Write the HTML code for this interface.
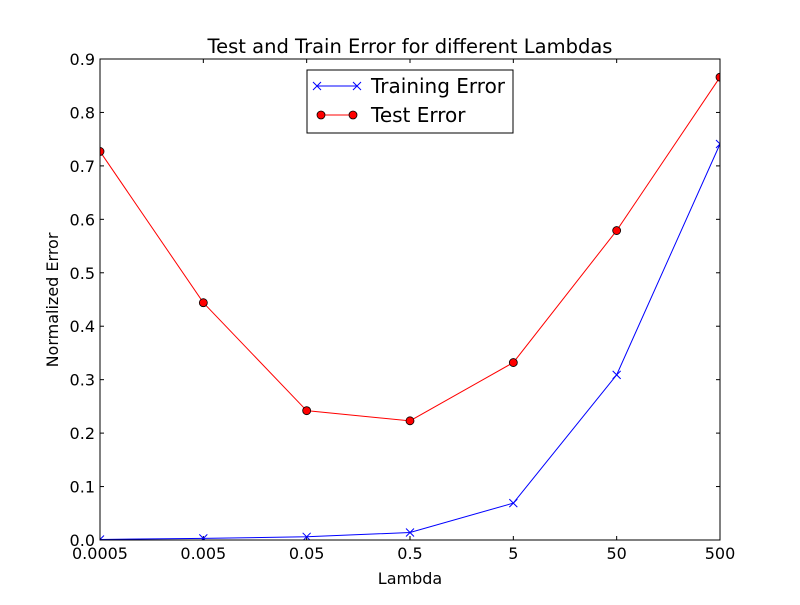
<!DOCTYPE html>
<html><head><meta charset="utf-8"><style>
body{margin:0;background:#fff;}
svg text{font-family:"DejaVu Sans","Liberation Sans",sans-serif;}
</style></head><body>
<svg id="chart" width="800" height="600" xmlns="http://www.w3.org/2000/svg">
<defs><clipPath id="ax"><rect x="100" y="59" width="620" height="481"/></clipPath></defs>
<rect width="800" height="600" fill="#fff"/>
<g id="plot"></g>
</svg>
<script>
const categories=["0.0005","0.005","0.05","0.5","5","50","500"];
const trainValues=[0.001,0.003,0.006,0.014,0.069,0.309,0.741];
const testValues=[0.727,0.444,0.242,0.223,0.332,0.579,0.866];
const yTicks=[0,0.1,0.2,0.3,0.4,0.5,0.6,0.7,0.8,0.9];
const L=100,R=720,T=59,B=540,YMAX=0.9;
const NS="http://www.w3.org/2000/svg";
const g=document.getElementById('plot');
function xs(i){return L+(R-L)*i/(categories.length-1);}
function ys(v){return B-(B-T)*v/YMAX;}
function el(t,a,p){const e=document.createElementNS(NS,t);for(const k in a)e.setAttribute(k,a[k]);(p||g).appendChild(e);return e;}
yTicks.forEach(v=>{const y=ys(v);
 el('line',{x1:L,y1:y,x2:L+4,y2:y,stroke:'#000'});
 el('line',{x1:R,y1:y,x2:R-4,y2:y,stroke:'#000'});
 const t=el('text',{x:L-5,y:y+6,'text-anchor':'end','font-size':16});t.textContent=v.toFixed(1);
 
 
});
categories.forEach((c,i)=>{const x=xs(i);
 el('line',{x1:x,y1:B,x2:x,y2:B-4,stroke:'#000'});
 el('line',{x1:x,y1:T,x2:x,y2:T+4,stroke:'#000'});
 const t=el('text',{x:x,y:B+19,'text-anchor':'middle','font-size':16});t.textContent=c;
 
 
});
const series=el('g',{'clip-path':'url(#ax)'});
const trainPts=trainValues.map((v,i)=>xs(i)+','+ys(v)).join(' ');
const trainLine=el('polyline',{points:trainPts,fill:'none',stroke:'#0000ff','stroke-width':1},series);


const testPts=testValues.map((v,i)=>xs(i)+','+ys(v)).join(' ');
const testLine=el('polyline',{points:testPts,fill:'none',stroke:'#ff0000','stroke-width':1},series);


function xMark(x,y,p){el('path',{d:`M${x-4},${y-4}L${x+4},${y+4}M${x-4},${y+4}L${x+4},${y-4}`,stroke:'#0000ff','stroke-width':1},p);}
function oMark(x,y,p){el('circle',{cx:x,cy:y,r:4,fill:'#ff0000',stroke:'#000','stroke-width':0.8},p);}
trainValues.forEach((v,i)=>{xMark(xs(i),ys(v),series);});
testValues.forEach((v,i)=>{oMark(xs(i),ys(v),series);});
const fr=el('rect',{x:L,y:T,width:R-L,height:B-T,fill:'none',stroke:'#000'});


const ti=el('text',{x:410,y:53,'text-anchor':'middle','font-size':19.5});ti.textContent='Test and Train Error for different Lambdas';


const xl=el('text',{x:410,y:584,'text-anchor':'middle','font-size':16});xl.textContent='Lambda';


const yl=el('text',{x:0,y:0,'text-anchor':'middle','font-size':16,transform:'translate(58,300) rotate(-90)'});yl.textContent='Normalized Error';


const lg=el('g',{});


el('rect',{x:307,y:70,width:206,height:63,fill:'#fff',stroke:'#000'},lg);
el('line',{x1:317,y1:86,x2:357,y2:86,stroke:'#0000ff'},lg);
xMark(317,86,lg);xMark(357,86,lg);
const t1=el('text',{x:371,y:93,'font-size':20},lg);t1.textContent='Training Error';


el('line',{x1:317,y1:115,x2:357,y2:115,stroke:'#ff0000'},lg);
oMark(321,115,lg);oMark(353,115,lg);
const t2=el('text',{x:371,y:122,'font-size':20},lg);t2.textContent='Test Error';


</script>
</body></html>
